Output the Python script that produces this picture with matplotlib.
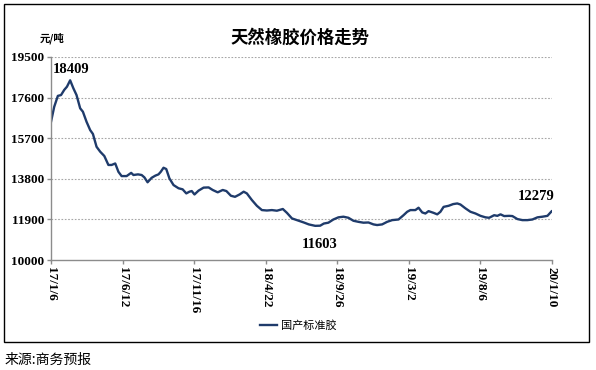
# -*- coding: utf-8 -*-
"""
天然橡胶价格走势 - line chart
"""

import pandas as pd
import matplotlib.pyplot as plt
import matplotlib.dates as mdates
from matplotlib.patches import Rectangle

plt.rcParams['font.family'] = ['Noto Sans CJK SC', 'DejaVu Sans']

#==============================================================================
# data
#==============================================================================

dates = [
    '2017-01-06', '2017-01-13', '2017-01-21', '2017-01-28', '2017-02-04',
    '2017-02-10', '2017-02-17', '2017-02-24', '2017-03-03', '2017-03-11',
    '2017-03-17', '2017-03-25', '2017-04-02', '2017-04-08', '2017-04-16',
    '2017-04-24', '2017-05-03', '2017-05-12', '2017-05-19', '2017-05-27',
    '2017-06-03', '2017-06-10', '2017-06-21', '2017-07-01', '2017-07-06',
    '2017-07-16', '2017-07-24', '2017-07-30', '2017-08-06', '2017-08-15',
    '2017-08-23', '2017-08-30', '2017-09-04', '2017-09-10', '2017-09-16',
    '2017-09-23', '2017-10-02', '2017-10-13', '2017-10-22', '2017-10-30',
    '2017-11-06', '2017-11-11', '2017-11-17', '2017-11-26', '2017-12-07',
    '2017-12-18', '2017-12-27', '2018-01-07', '2018-01-18', '2018-01-26',
    '2018-02-05', '2018-02-14', '2018-02-24', '2018-03-05', '2018-03-12',
    '2018-03-23', '2018-04-03', '2018-04-14', '2018-04-25', '2018-05-06',
    '2018-05-17', '2018-05-30', '2018-06-08', '2018-06-19', '2018-07-04',
    '2018-07-15', '2018-07-26', '2018-08-09', '2018-08-20', '2018-08-28',
    '2018-09-07', '2018-09-18', '2018-09-29', '2018-10-10', '2018-10-21',
    '2018-11-01', '2018-11-12', '2018-11-23', '2018-12-04', '2018-12-15',
    '2018-12-23', '2019-01-03', '2019-01-14', '2019-01-25', '2019-02-08',
    '2019-02-19', '2019-02-27', '2019-03-06', '2019-03-17', '2019-03-24',
    '2019-04-01', '2019-04-08', '2019-04-15', '2019-04-26', '2019-05-04',
    '2019-05-11', '2019-05-18', '2019-05-29', '2019-06-08', '2019-06-17',
    '2019-06-24', '2019-07-05', '2019-07-16', '2019-07-27', '2019-08-07',
    '2019-08-18', '2019-08-26', '2019-09-06', '2019-09-13', '2019-09-20',
    '2019-09-28', '2019-10-09', '2019-10-16', '2019-10-27', '2019-11-07',
    '2019-11-18', '2019-11-29', '2019-12-10', '2019-12-21', '2020-01-01',
    '2020-01-10',
]

price = [
    16470, 17170, 17680, 17720, 17960, 18110, 18409, 18040, 17720, 17100,
    16940, 16470, 16080, 15900, 15300, 15070, 14870, 14450, 14450, 14520,
    14130, 13930, 13930, 14080, 13980, 14010, 13980, 13870, 13640, 13850,
    13950, 14010, 14130, 14320, 14260, 13820, 13510, 13360, 13310, 13120,
    13200, 13230, 13070, 13250, 13390, 13400, 13280, 13170, 13280, 13230,
    13010, 12960, 13070, 13200, 13120, 12810, 12540, 12340, 12320, 12340,
    12310, 12390, 12210, 11950, 11840, 11760, 11670, 11603, 11610, 11710,
    11750, 11900, 12000, 12030, 11980, 11840, 11790, 11750, 11760, 11670,
    11640, 11670, 11790, 11870, 11900, 12100, 12260, 12340, 12340, 12450,
    12230, 12180, 12290, 12210, 12140, 12260, 12490, 12540, 12620, 12650,
    12600, 12420, 12260, 12180, 12070, 12000, 11980, 12100, 12070, 12140,
    12060, 12070, 12060, 11920, 11870, 11870, 11900, 12000, 12030, 12070,
    12279,
]

y_ticks = [10000, 11900, 13800, 15700, 17600, 19500]
x_ticks = ['2017-01-06', '2017-06-12', '2017-11-16', '2018-04-22',
           '2018-09-26', '2019-03-02', '2019-08-06', '2020-01-10']

#==============================================================================
# styles
#==============================================================================

navy = '#1F3B6B'
grey = '#8C8C8C'

font_tick = {'family': ['Liberation Serif', 'DejaVu Serif'],
             'weight': 'bold', 'size': 9.5}
font_note = {'family': ['Liberation Serif', 'DejaVu Serif'],
             'weight': 'bold', 'size': 10.5}

#==============================================================================
# plot
#==============================================================================

t = pd.to_datetime(dates)
xt = pd.to_datetime(x_ticks)

fig = plt.figure(figsize=(5.96, 3.70), dpi=100)
fig.patch.set_facecolor('white')

# outer frame
fig.patches.append(Rectangle((0.0067, 0.0757), 0.9815, 0.9135,
                             transform=fig.transFigure, fill=False,
                             ec='black', lw=1.0))

ax = fig.add_axes([0.0856, 0.297, 0.8398, 0.549])

line, = ax.plot(t, price, color=navy, lw=1.7, label='国产标准胶')

ax.set_ylim(10000, 19500)
ax.set_xlim(xt[0], xt[-1])
ax.set_yticks(y_ticks)
ax.set_yticklabels([str(v) for v in y_ticks], fontdict=font_tick)
ax.set_xticks(xt)
ax.set_xticklabels([f'{d.year % 100}/{d.month}/{d.day}' for d in xt],
                   fontdict=font_tick, rotation=270, va='top', ha='center')

for v in y_ticks[1:]:
    ax.axhline(v, color='#A6A6A6', lw=0.8, ls=(0, (1.5, 1.5)), zorder=0)

for s in ['top', 'right']:
    ax.spines[s].set_visible(False)
for s in ['left', 'bottom']:
    ax.spines[s].set_color(grey)
    ax.spines[s].set_linewidth(1.0)
ax.tick_params(axis='both', direction='out', length=3, width=1.0,
               color=grey, pad=2)

# value labels
i_max = price.index(max(price))
i_min = price.index(min(price))
ax.annotate(str(price[i_max]), (t[i_max], price[i_max]), xytext=(1, 3),
            textcoords='offset points', ha='center', va='bottom', **font_note)
ax.annotate(str(price[i_min]), (t[i_min], price[i_min]), xytext=(3, -9),
            textcoords='offset points', ha='center', va='top', **font_note)
ax.annotate(str(price[-1]), (t[-1], price[-1]), xytext=(-11, 6),
            textcoords='offset points', ha='center', va='bottom', **font_note)

# texts
fig.text(0.503, 0.897, '天然橡胶价格走势', ha='center', va='center',
         fontsize=12.5, fontweight='bold')
fig.text(0.087, 0.897, '元/吨', ha='center', va='center',
         fontsize=7.5, fontweight='bold')
fig.legend(handles=[line], loc='center', bbox_to_anchor=(0.5, 0.119),
           frameon=False, prop={'size': 8}, handlelength=1.6,
           handletextpad=0.3)
fig.text(0.007, 0.027, '来源:商务预报', ha='left', va='center', fontsize=10)

fig.savefig('out.png', dpi=100, facecolor='white')
